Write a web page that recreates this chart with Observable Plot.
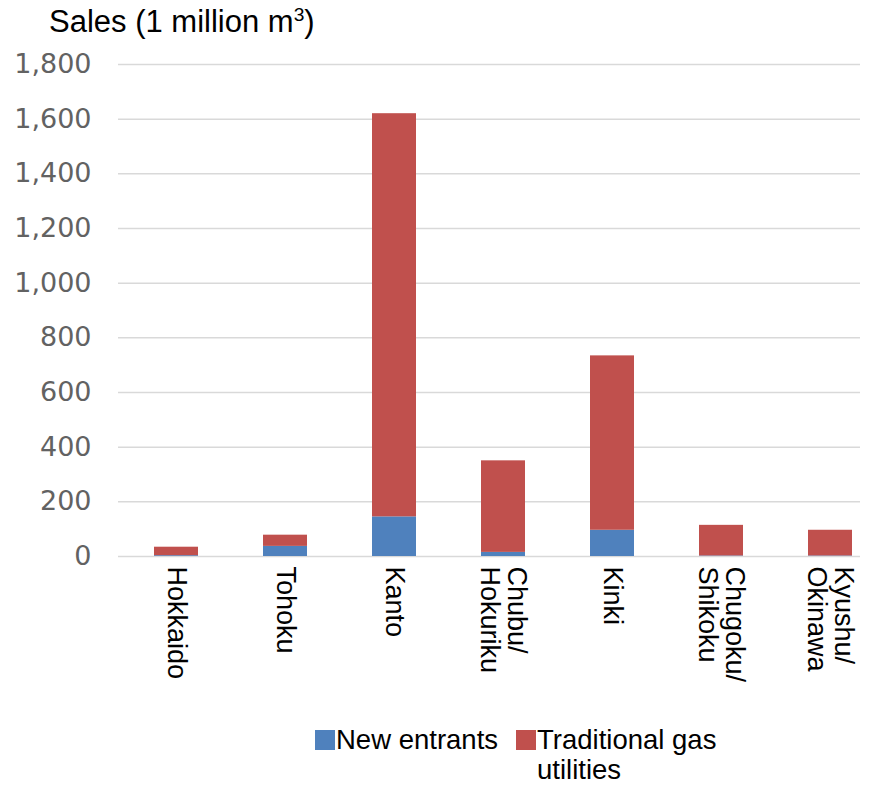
<!DOCTYPE html>
<html>
<head>
<meta charset="utf-8">
<script src="https://cdn.jsdelivr.net/npm/d3@7"></script>
<script src="https://cdn.jsdelivr.net/npm/@observablehq/plot@0.6"></script>
<style>
  html, body { margin: 0; padding: 0; background: #fff; }
  body { width: 881px; height: 785px; overflow: hidden; font-family: "Liberation Sans", Arial, sans-serif; }
  #title { height: 44px; line-height: 44px; font-size: 31px; padding-left: 49px; color: #000; white-space: nowrap; }
  #title sup { font-size: 0.62em; line-height: 0; vertical-align: 0.55em; }
  #chart svg { display: block; }
  #legend { display: flex; align-items: flex-start; padding-left: 315px; padding-top: 1px; font-size: 27.5px; line-height: 30px; color: #000; }
  .sw { width: 20px; height: 20px; margin-top: 5px; flex: none; }
  .item { display: flex; align-items: flex-start; }
  .lab { white-space: normal; }
</style>
</head>
<body>
<div id="title"></div>
<div id="chart"></div>
<div id="legend"></div>
<script>
const regions = ["Hokkaido", "Tohoku", "Kanto", "Chubu/\nHokuriku", "Kinki", "Chugoku/\nShikoku", "Kyushu/\nOkinawa"];
const newEntrants = [3, 37, 145, 15, 96, 2, 2];
const traditional = [31, 41, 1475, 335, 638, 112, 94];
const seriesNames = ["New entrants", "Traditional gas utilities"];
const seriesColors = ["#4f81bd", "#c0504d"];
const yTicks = [0, 200, 400, 600, 800, 1000, 1200, 1400, 1600, 1800];
const titleText = "Sales (1 million m";
const titleSup = "3";

document.getElementById("title").innerHTML = titleText + "<sup>" + titleSup + "</sup>)";

const data = regions.flatMap((r, i) => [
  {region: r, series: seriesNames[0], value: newEntrants[i]},
  {region: r, series: seriesNames[1], value: traditional[i]}
]);

const chart = Plot.plot({
  width: 881,
  height: 680,
  marginTop: 20,
  marginBottom: 168,
  marginLeft: 118,
  marginRight: 21,
  x: {domain: regions, range: [120, 885], paddingInner: 0.6, paddingOuter: 0.3, label: null},
  y: {domain: [0, 1800], label: null},
  color: {domain: seriesNames, range: seriesColors},
  style: {fontFamily: "Liberation Sans, Arial, sans-serif", background: "#fff", overflow: "visible"},
  marks: [
    Plot.gridY(yTicks, {stroke: "#d9d9d9", strokeOpacity: 1, strokeWidth: 1.5}),
    Plot.barY(data, {x: "region", y: "value", fill: "series"}),
    Plot.axisY(yTicks, {tickSize: 0, tickPadding: 27, tickFormat: d3.format(","), fontSize: 27, fontFamily: "DejaVu Sans", fill: "#626262", label: null}),
    Plot.axisX({tickSize: 0, tickRotate: 90, tickPadding: 10, fontSize: 27, fill: "#000", label: null})
  ]
});
document.getElementById("chart").appendChild(chart);

const legend = document.getElementById("legend");
seriesNames.forEach((name, i) => {
  const item = document.createElement("div");
  item.className = "item";
  item.style.marginRight = i === 0 ? "18px" : "0";
  const sw = document.createElement("div");
  sw.className = "sw";
  sw.style.background = seriesColors[i];
  const lab = document.createElement("div");
  lab.className = "lab";
  lab.style.marginLeft = "1px";
  if (i === 1) lab.style.width = "195px";
  lab.textContent = name;
  item.appendChild(sw);
  item.appendChild(lab);
  legend.appendChild(item);
});
</script>
</body>
</html>
